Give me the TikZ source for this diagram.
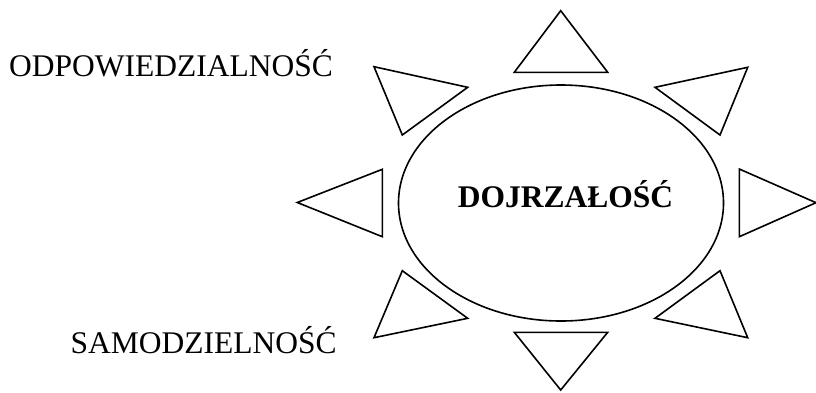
\documentclass[tikz,border=0pt]{standalone}
\usepackage{fontspec}
\setmainfont{Liberation Serif}
\usetikzlibrary{shapes.geometric}
\tikzset{
  ray/.style={draw=black, line width=1.6pt, line join=miter, fill=white},
  label/.style={inner sep=0pt, font=\fontsize{31.5}{36}\selectfont},
}
\begin{document}
\begin{tikzpicture}[x=1pt,y=-1pt]
\useasboundingbox (0,0) rectangle (816,392);
% centre ellipse
\node[ellipse, draw, line width=1.6pt, minimum width=325pt, minimum height=236pt, inner sep=0pt] (core) at (561,203) {};
\node[label, anchor=base, font=\fontsize{31.5}{36}\selectfont\bfseries] (title) at (565.5,207) {DOJRZAŁOŚĆ};
% rays
\draw[ray] (560.7,10.7) -- (607.7,72.3) -- (514.3,72.3) -- cycle;      % top
\draw[ray] (560.7,390) -- (607.7,332.3) -- (514.3,332.3) -- cycle;     % bottom
\draw[ray] (816,202.7) -- (739.3,169) -- (739.3,236.7) -- cycle;       % right
\draw[ray] (297.3,202.5) -- (382.3,169.3) -- (382.3,236.7) -- cycle;   % left
\draw[ray] (374,66.7) -- (467.7,87.3) -- (402.3,135) -- cycle;         % upper left
\draw[ray] (747.7,67.3) -- (655,87.3) -- (720,135) -- cycle;           % upper right
\draw[ray] (374,337.7) -- (467.7,318.3) -- (402.3,270.7) -- cycle;     % lower left
\draw[ray] (747.7,337.7) -- (655,318.3) -- (720,270.7) -- cycle;       % lower right
% side labels
\node[label, anchor=base west] (resp) at (9,76.7) {ODPOWIEDZIALNOŚĆ};
\node[label, anchor=base west] (indep) at (70.5,353.3) {SAMODZIELNOŚĆ};
\end{tikzpicture}
\end{document}
